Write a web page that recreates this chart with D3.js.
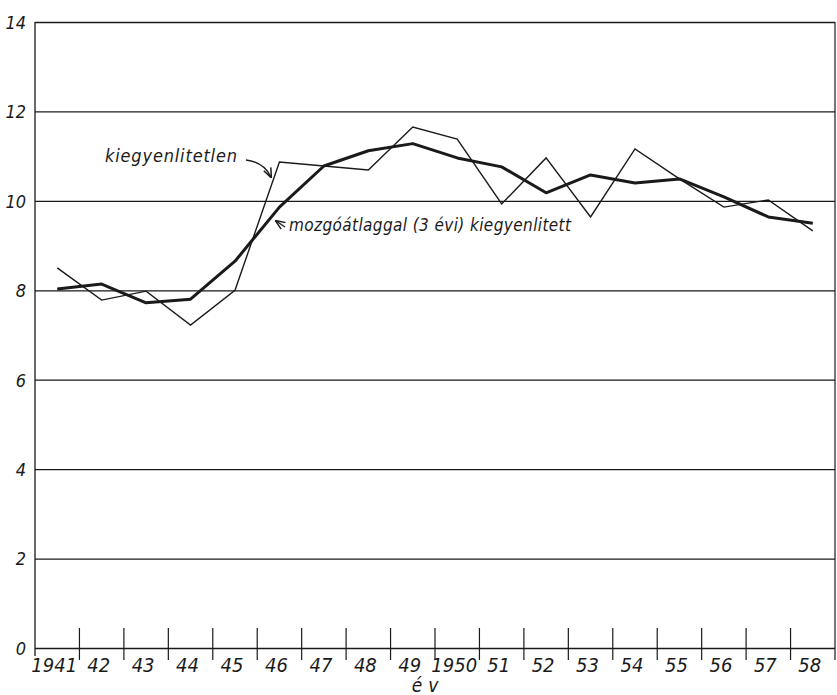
<html>
<script src="https://d3js.org/d3.v7.min.js"></script>
<style>
body {margin: 0; background: white;}
svg text {font-family: "Liberation Sans Narrow", "DejaVu Sans Condensed", sans-serif; font-style: italic; fill: #1a1a1a;}
</style>
<body>
<svg id="chart" width="837" height="695"></svg>
<script>
// data
var years = [1941, 1942, 1943, 1944, 1945, 1946, 1947, 1948, 1949, 1950, 1951, 1952, 1953, 1954, 1955, 1956, 1957, 1958];
var yearLabels = ["1941", "42", "43", "44", "45", "46", "47", "48", "49", "1950", "51", "52", "53", "54", "55", "56", "57", "58"];
var unsmoothed = [8.5, 7.78, 7.98, 7.22, 8.0, 10.87, 10.78, 10.69, 11.65, 11.38, 9.93, 10.96, 9.64, 11.16, 10.49, 9.86, 10.02, 9.33];
var movingAvg = [8.03, 8.14, 7.72, 7.8, 8.65, 9.86, 10.78, 11.12, 11.28, 10.96, 10.76, 10.18, 10.58, 10.4, 10.49, 10.09, 9.64, 9.5];
var yTicks = [0, 2, 4, 6, 8, 10, 12, 14];

var plotLeft = 35, plotRight = 835, plotTop = 22, plotBottom = 648;
var ink = "#1a1a1a";
var svg = d3.select("#chart");

//scales
var xscale = d3.scaleBand().domain(years).range([plotLeft, plotRight]);
var yscale = d3.scaleLinear().domain([0, 14]).range([plotBottom, plotTop]);
function cx(yr) { return xscale(yr) + xscale.bandwidth() / 2; }

//horizontal grid + y labels
var yaxis = svg.append("g")
    .attr("transform", "translate(" + plotLeft + ",0)")
    .call(d3.axisLeft(yscale).tickValues(yTicks).tickSize(-(plotRight - plotLeft)).tickPadding(9));
yaxis.select(".domain").remove();
yaxis.selectAll("line").attr("stroke", ink).attr("stroke-width", 1.3);
yaxis.selectAll("text")
    .style("font-size", "18px")
    .attr("dy", "0.35em");

//frame
svg.append("line")
    .attr("x1", plotLeft).attr("x2", plotLeft)
    .attr("y1", yscale(14)).attr("y2", plotBottom + 8)
    .attr("stroke", ink).attr("stroke-width", 1.3);
svg.append("line")
    .attr("x1", plotRight).attr("x2", plotRight)
    .attr("y1", yscale(14)).attr("y2", plotBottom + 12)
    .attr("stroke", ink).attr("stroke-width", 1.2);

//x ticks between the years
svg.append("g").selectAll("line")
    .data(years.slice(1))
    .enter()
    .append("line")
    .attr("x1", function(d) { return xscale(d); })
    .attr("x2", function(d) { return xscale(d); })
    .attr("y1", plotBottom - 20)
    .attr("y2", plotBottom + 12)
    .attr("stroke", ink).attr("stroke-width", 1.2);

//x labels
svg.append("g").selectAll("text")
    .data(years)
    .enter()
    .append("text")
    .attr("x", function(d) { return cx(d) - 3; })
    .attr("y", plotBottom + 24)
    .attr("text-anchor", "middle")
    .style("font-size", "20px")
    .text(function(d, i) { return yearLabels[i]; });

svg.append("text")
    .attr("x", 428).attr("y", 692)
    .attr("text-anchor", "middle")
    .style("font-size", "19px")
    .style("letter-spacing", "6px")
    .text("év");

//lines
var line = d3.line()
    .x(function(d, i) { return cx(years[i]); })
    .y(function(d) { return yscale(d); });

svg.append("path")
    .datum(unsmoothed)
    .attr("d", line)
    .attr("fill", "none")
    .attr("stroke", ink)
    .attr("stroke-width", 1.4)
    .attr("stroke-linejoin", "miter");

svg.append("path")
    .datum(movingAvg)
    .attr("d", line)
    .attr("fill", "none")
    .attr("stroke", ink)
    .attr("stroke-width", 3)
    .attr("stroke-linejoin", "round");

//annotations
svg.append("defs").append("marker")
    .attr("id", "head")
    .attr("viewBox", "0 0 10 10")
    .attr("refX", 9).attr("refY", 5)
    .attr("markerWidth", 7).attr("markerHeight", 7)
    .attr("orient", "auto")
    .append("path")
    .attr("d", "M0,1 L10,5 L0,9")
    .attr("fill", "none")
    .attr("stroke", ink)
    .attr("stroke-width", 1.5);

svg.append("text")
    .attr("x", 105).attr("y", 162)
    .attr("textLength", 132)
    .style("font-size", "18px")
    .text("kiegyenlitetlen");
svg.append("path")
    .attr("d", "M246,160 Q264,162 271,177")
    .attr("fill", "none")
    .attr("stroke", ink).attr("stroke-width", 1.4)
    .attr("marker-end", "url(#head)");

svg.append("text")
    .attr("x", 289).attr("y", 231)
    .attr("textLength", 282)
    .style("font-size", "17px")
    .text("mozgóátlaggal (3 évi) kiegyenlitett");
svg.append("path")
    .attr("d", "M285,227 L276,221")
    .attr("fill", "none")
    .attr("stroke", ink).attr("stroke-width", 1.4)
    .attr("marker-end", "url(#head)");
</script>
</body>
</html>
